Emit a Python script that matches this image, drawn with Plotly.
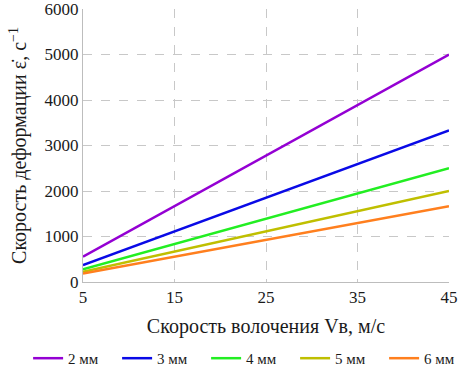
import plotly.graph_objects as go

speeds = [5, 15, 25, 35, 45]
rate_2mm = [556, 1667, 2778, 3889, 5000]
rate_3mm = [370, 1111, 1852, 2593, 3333]
rate_4mm = [278, 833, 1389, 1944, 2500]
rate_5mm = [222, 667, 1111, 1556, 2000]
rate_6mm = [185, 556, 926, 1296, 1667]

series = [
    ("2 мм", rate_2mm, "#9400D3"),
    ("3 мм", rate_3mm, "#0A0AE6"),
    ("4 мм", rate_4mm, "#22EE22"),
    ("5 мм", rate_5mm, "#BFBF00"),
    ("6 мм", rate_6mm, "#FF7F1E"),
]

fig = go.Figure()
for name, vals, col in series:
    fig.add_trace(go.Scatter(x=speeds, y=vals, mode="lines", name=name,
                             line=dict(color=col, width=2.5)))

font = "Liberation Serif"
fig.update_layout(
    width=461, height=366,
    margin=dict(l=83, r=12, t=9, b=84, autoexpand=False),
    paper_bgcolor="white", plot_bgcolor="white",
    font=dict(family=font, size=17, color="#1a1a1a"),
    showlegend=True,
    legend=dict(orientation="h", x=-0.15, xanchor="left", y=-0.28, yanchor="middle",
                font=dict(size=15, family=font, color="#1a1a1a"), itemwidth=30,
                entrywidth=44, entrywidthmode="pixels",
                tracegroupgap=0, traceorder="normal"),
    xaxis=dict(range=[5, 45], tickvals=speeds, ticks="", showgrid=True,
               gridcolor="#C8C8C8", griddash="dash", gridwidth=1, automargin=False,
               ticklabeloverflow="allow",
               showline=True, linecolor="#BDBDBD", linewidth=1, zeroline=False,
               title=dict(text="Скорость волочения Vв, м/с",
                          font=dict(size=20, family=font, color="#1a1a1a"), standoff=12),
               tickfont=dict(size=17, family=font, color="#1a1a1a")),
    yaxis=dict(range=[0, 6000], dtick=1000, ticks="", showgrid=True,
               gridcolor="#C8C8C8", griddash="dash", gridwidth=1, automargin=False,
               ticklabeloverflow="allow",
               showline=True, linecolor="#BDBDBD", linewidth=1, zeroline=False,
               title=dict(text="Скорость деформации ε̇, с<sup>−1</sup>",
                          font=dict(size=20, family=font, color="#1a1a1a"), standoff=12),
               tickfont=dict(size=17, family=font, color="#1a1a1a")),
)
fig.write_html("out.html", post_script="document.body.style.margin='0';",
               config={"displayModeBar": False})
